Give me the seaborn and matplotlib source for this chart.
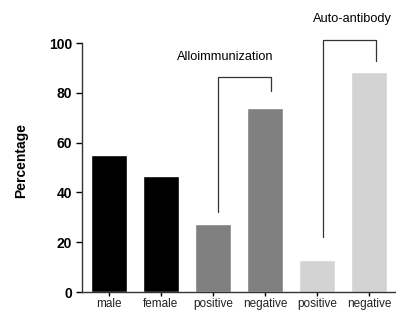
import pandas as pd
import numpy as np
import matplotlib
matplotlib.use("Agg")
import matplotlib.pyplot as plt
import seaborn as sns

# values
groups = ["male", "female", "allo_pos", "allo_neg", "auto_pos", "auto_neg"]
tick_labels = ["male", "female", "positive", "negative", "positive", "negative"]
percent = [55, 46.5, 27.2, 74, 13, 88.2]
bar_colors = ["#000000", "#000000", "#808080", "#808080", "#d3d3d3", "#d3d3d3"]

df = pd.DataFrame({"group": groups, "percent": percent})

sns.set_style("ticks")
plt.rcParams['font.family'] = ['Liberation Sans', 'DejaVu Sans']
plt.rcParams['text.color'] = 'black'
plt.rcParams['xtick.color'] = 'black'
plt.rcParams['ytick.color'] = 'black'
plt.rcParams['axes.labelcolor'] = 'black'

fig = plt.figure(figsize=(3.96, 3.10), dpi=100)
ax = fig.add_axes([0.207, 0.058, 0.793, 0.803])

sns.barplot(data=df, x="group", y="percent", hue="group", order=groups,
            palette=dict(zip(groups, bar_colors)), legend=False,
            width=0.71, saturation=1, ax=ax)

ax.set_ylim(0, 100)
ax.set_xlim(-0.52, 5.52)
ax.set_yticks([0, 20, 40, 60, 80, 100])
ax.set_yticklabels(["0", "20", "40", "60", "80", "100"], fontsize=10, fontweight="bold")
ax.set_xticks(range(len(groups)))
ax.set_xticklabels(tick_labels, fontsize=8.5, color="#222222")
ax.set_xlabel("")
ax.set_ylabel("Percentage", fontsize=10, fontweight="bold")
ax.yaxis.set_label_coords(-0.17, 0.53)
ax.tick_params(axis="y", length=4, width=1, pad=3)
ax.tick_params(axis="x", length=3, width=1, pad=1)
for s in ["left", "bottom"]:
    ax.spines[s].set_linewidth(1)
    ax.spines[s].set_color("#333333")
sns.despine(ax=ax)

# brackets
def bracket(x0, x1, top, y0, y1, label, tx, ty):
    ax.plot([x0, x0, x1, x1], [y0, top, top, y1], color="#333333", lw=0.9,
            clip_on=False)
    ax.text(tx, ty, label, ha="center", va="center",
            fontsize=9.2, clip_on=False)

bracket(2.1, 3.12, 86.3, 32.2, 80.6, "Alloimmunization", 2.24, 94.5)
bracket(4.11, 5.14, 101.2, 22.2, 92.8, "Auto-antibody", 4.68, 109.7)

fig.savefig("out.png", dpi=100)
